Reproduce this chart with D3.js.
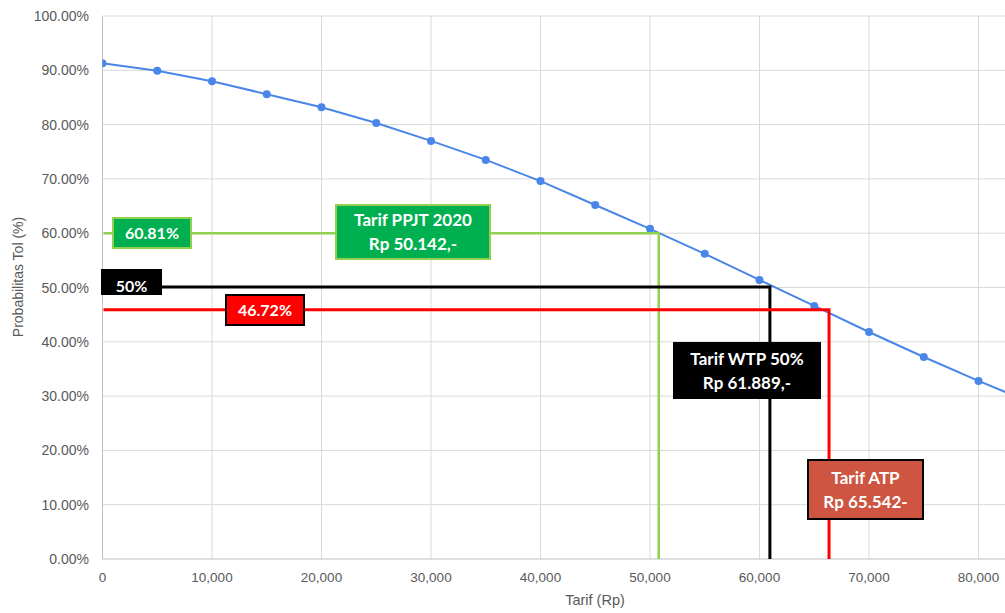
<!DOCTYPE html>
<html>
<head>
<meta charset="utf-8">
<script src="https://cdn.jsdelivr.net/npm/d3@7"></script>
<style>
  body { margin: 0; background: #fff; }
  svg { display: block; }
</style>
</head>
<body>
<script>
// tarif (Rp) and probability (%)
var tarif = [0, 5000, 10000, 15000, 20000, 25000, 30000, 35000, 40000, 45000, 50000,
             55000, 60000, 65000, 70000, 75000, 80000, 85000]
var prob = [91.3, 89.9, 88.0, 85.6, 83.2, 80.3, 77.0, 73.5, 69.6, 65.2, 60.8,
            56.2, 51.4, 46.6, 41.8, 37.2, 32.8, 28.6]

var xTicks = [0, 10000, 20000, 30000, 40000, 50000, 60000, 70000, 80000]
var yTicks = [0, 10, 20, 30, 40, 50, 60, 70, 80, 90, 100]

// guide lines: where they are drawn in the picture (tarif, prob)
var guideNames = ["ppjt", "wtp", "atp"]
var guideTarif = [50800, 60950, 66350]
var guideProb = [60.0, 50.1, 45.9]
var guideColor = ["#92d050", "#000000", "#ff0000"]
var guideWidth = [2.5, 3, 3]

// label texts
var boxTexts = [
  ["60.81%"],
  ["Tarif PPJT 2020", "Rp 50.142,-"],
  ["50%"],
  ["46.72%"],
  ["Tarif WTP 50%", "Rp 61.889,-"],
  ["Tarif ATP", "Rp 65.542-"]
]

var margin = {top: 16, right: 0, bottom: 54, left: 102.5}
var W = 1005, H = 613

var svg = d3.select("body").append("svg")
    .attr("width", W)
    .attr("height", H)

var x = d3.scaleLinear().domain([0, 82420]).range([margin.left, W - margin.right])
var y = d3.scaleLinear().domain([0, 100]).range([H - margin.bottom, margin.top])

svg.append("defs").append("clipPath").attr("id", "plot")
  .append("rect")
  .attr("x", margin.left).attr("y", 0)
  .attr("width", W - margin.left).attr("height", H - margin.bottom)

// grid
svg.append("g")
  .selectAll("line.h")
  .data(yTicks.slice(1))
  .join("line")
  .attr("x1", margin.left).attr("x2", W)
  .attr("y1", d => y(d)).attr("y2", d => y(d))
  .style("stroke", "#d9d9d9").style("stroke-width", 1)

svg.append("g")
  .selectAll("line.v")
  .data(xTicks.slice(1))
  .join("line")
  .attr("x1", d => x(d)).attr("x2", d => x(d))
  .attr("y1", y(0)).attr("y2", y(100))
  .style("stroke", "#d9d9d9").style("stroke-width", 1)

// axis lines
svg.append("line")
  .attr("x1", margin.left).attr("x2", margin.left)
  .attr("y1", y(0)).attr("y2", y(100))
  .style("stroke", "#bfbfbf")
svg.append("line")
  .attr("x1", margin.left).attr("x2", W)
  .attr("y1", y(0)).attr("y2", y(0))
  .style("stroke", "#bfbfbf")

// tick labels
var tickFont = "'Liberation Sans', Arial, sans-serif"
var fmtX = d3.format(",")
svg.append("g")
  .selectAll("text")
  .data(xTicks)
  .join("text")
  .attr("x", d => x(d))
  .attr("y", y(0) + 23)
  .attr("text-anchor", "middle")
  .style("font-family", tickFont)
  .style("font-size", "13.5px")
  .style("fill", "#595959")
  .text(d => fmtX(d))

svg.append("g")
  .selectAll("text")
  .data(yTicks)
  .join("text")
  .attr("x", 89)
  .attr("y", d => y(d) + 5)
  .attr("text-anchor", "end")
  .style("font-family", tickFont)
  .style("font-size", "14px")
  .style("fill", "#595959")
  .text(d => d.toFixed(2) + "%")

// axis titles
svg.append("text")
  .attr("transform", "translate(23,277) rotate(-90)")
  .attr("text-anchor", "middle")
  .style("font-family", tickFont)
  .style("font-size", "14px")
  .style("fill", "#595959")
  .text("Probabilitas Tol (%)")

svg.append("text")
  .attr("x", 595)
  .attr("y", 605)
  .attr("text-anchor", "middle")
  .style("font-family", tickFont)
  .style("font-size", "14.5px")
  .style("fill", "#595959")
  .text("Tarif (Rp)")

// probability curve
var pts = tarif.map((t, i) => [t, prob[i]])
var plot = svg.append("g").attr("clip-path", "url(#plot)")

plot.append("path")
  .datum(pts)
  .attr("d", d3.line().x(d => x(d[0])).y(d => y(d[1])))
  .style("fill", "none")
  .style("stroke", "#4a86e8")
  .style("stroke-width", 2)

plot.selectAll("circle")
  .data(pts)
  .join("circle")
  .attr("cx", d => x(d[0]))
  .attr("cy", d => y(d[1]))
  .attr("r", 4)
  .style("fill", "#4a86e8")

// guide lines (horizontal then down to axis)
guideNames.forEach(function(name, i) {
  svg.append("path")
    .attr("d", "M" + (margin.left + 1) + "," + y(guideProb[i]) +
               "H" + x(guideTarif[i]) + "V" + y(0))
    .style("fill", "none")
    .style("stroke", guideColor[i])
    .style("stroke-width", guideWidth[i])
})

// label boxes
var boxes = [
  {x: 113, y: 218, w: 78, h: 30, fill: "#00b050", stroke: "#92d050", fs: 16},
  {x: 336, y: 205, w: 154, h: 54, fill: "#00b050", stroke: "#92d050", fs: 17},
  {x: 102, y: 270, w: 59, h: 24, fill: "#000000", stroke: "#000000", fs: 16, dy: 4},
  {x: 226, y: 295, w: 78, h: 30, fill: "#ff0000", stroke: "#000000", fs: 16},
  {x: 674, y: 343, w: 146, h: 55, fill: "#000000", stroke: "#000000", fs: 17},
  {x: 808, y: 460, w: 115, h: 59, fill: "#cd5541", stroke: "#000000", fs: 17}
]

boxes.forEach(function(b, i) {
  var g = svg.append("g")
  g.append("rect")
    .attr("x", b.x).attr("y", b.y)
    .attr("width", b.w).attr("height", b.h)
    .style("fill", b.fill)
    .style("stroke", b.stroke)
    .style("stroke-width", 2)
  var lines = boxTexts[i]
  var lh = 24
  var cy = b.y + b.h / 2 + (b.dy || 0)
  lines.forEach(function(t, j) {
    g.append("text")
      .attr("x", b.x + b.w / 2)
      .attr("y", cy + (j - (lines.length - 1) / 2) * lh + 6)
      .attr("text-anchor", "middle")
      .style("font-family", "Lato, 'Open Sans', sans-serif")
      .style("font-weight", "bold")
      .style("font-size", b.fs + "px")
      .style("fill", "#ffffff")
      .text(t)
  })
})
</script>
</body>
</html>
